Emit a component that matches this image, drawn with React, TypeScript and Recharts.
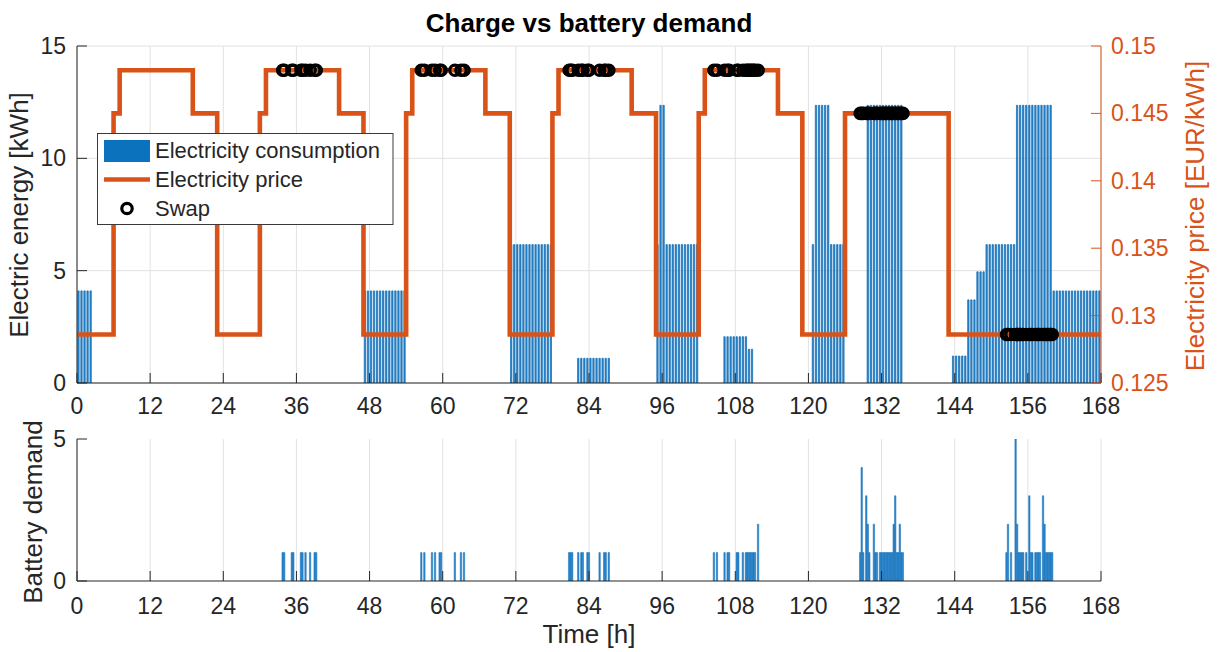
import React from 'react';
import { ComposedChart, Bar, Line, Scatter, XAxis, YAxis, CartesianGrid } from 'recharts';

const FONT = '"Liberation Sans", Arial, Helvetica, sans-serif';
const INK = '#262626';
const ORANGE = '#D95319';
const BAR_FILL = '#2F8BD1';
const BAR_EDGE = '#0B69B2';
const GRID = '#E2E2E2';
const TICK_LEN = 10;
const TICK_FONT = 23;

// axis ticks
const hourTicks = [0, 12, 24, 36, 48, 60, 72, 84, 96, 108, 120, 132, 144, 156, 168];
const energyTicks = [0, 5, 10, 15];
const priceTicks = [0.125, 0.13, 0.135, 0.14, 0.145, 0.15];
const demandTicks = [0, 5];

// tariff levels [EUR/kWh]
const LOW = 0.1286;
const MID = 0.145;
const PEAK = 0.1482;

// electricity price per hour, 7 days x 24 h
const hourlyPrice = [
  LOW, LOW, LOW, LOW, LOW, LOW, MID, PEAK, PEAK, PEAK, PEAK, PEAK, PEAK, PEAK, PEAK, PEAK, PEAK, PEAK, PEAK, MID, MID, MID, MID, LOW,
  LOW, LOW, LOW, LOW, LOW, LOW, MID, PEAK, PEAK, PEAK, PEAK, PEAK, PEAK, PEAK, PEAK, PEAK, PEAK, PEAK, PEAK, MID, MID, MID, MID, LOW,
  LOW, LOW, LOW, LOW, LOW, LOW, MID, PEAK, PEAK, PEAK, PEAK, PEAK, PEAK, PEAK, PEAK, PEAK, PEAK, PEAK, PEAK, MID, MID, MID, MID, LOW,
  LOW, LOW, LOW, LOW, LOW, LOW, MID, PEAK, PEAK, PEAK, PEAK, PEAK, PEAK, PEAK, PEAK, PEAK, PEAK, PEAK, PEAK, MID, MID, MID, MID, LOW,
  LOW, LOW, LOW, LOW, LOW, LOW, MID, PEAK, PEAK, PEAK, PEAK, PEAK, PEAK, PEAK, PEAK, PEAK, PEAK, PEAK, PEAK, MID, MID, MID, MID, LOW,
  LOW, LOW, LOW, LOW, LOW, LOW, MID, MID, MID, MID, MID, MID, MID, MID, MID, MID, MID, MID, MID, MID, MID, MID, MID, LOW,
  LOW, LOW, LOW, LOW, LOW, LOW, LOW, LOW, LOW, LOW, LOW, LOW, LOW, LOW, LOW, LOW, LOW, LOW, LOW, LOW, LOW, LOW, LOW, LOW,
];

// electricity consumption per half hour [kWh], 12 slots (6 h) per line
const consumption = [
  // day 1
  4.1, 4.1, 4.1, 4.1, 4.1, 0, 0, 0, 0, 0, 0, 0,
  0, 0, 0, 0, 0, 0, 0, 0, 0, 0, 0, 0,
  0, 0, 0, 0, 0, 0, 0, 0, 0, 0, 0, 0,
  0, 0, 0, 0, 0, 0, 0, 0, 0, 0, 0, 0,
  // day 2
  0, 0, 0, 0, 0, 0, 0, 0, 0, 0, 0, 0,
  0, 0, 0, 0, 0, 0, 0, 0, 0, 0, 0, 0,
  0, 0, 0, 0, 0, 0, 0, 0, 0, 0, 0, 0,
  0, 0, 0, 0, 0, 0, 0, 0, 0, 0, 4.1, 4.1,
  // day 3
  4.1, 4.1, 4.1, 4.1, 4.1, 4.1, 4.1, 4.1, 4.1, 4.1, 4.1, 4.1,
  0, 0, 0, 0, 0, 0, 0, 0, 0, 0, 0, 0,
  0, 0, 0, 0, 0, 0, 0, 0, 0, 0, 0, 0,
  0, 0, 0, 0, 0, 0, 0, 0, 0, 0, 6.16, 6.16,
  // day 4
  6.16, 6.16, 6.16, 6.16, 6.16, 6.16, 6.16, 6.16, 6.16, 6.16, 6.16, 6.16,
  0, 0, 0, 0, 0, 0, 0, 0, 1.1, 1.1, 1.1, 1.1,
  1.1, 1.1, 1.1, 1.1, 1.1, 1.1, 1.1, 0, 0, 0, 0, 0,
  0, 0, 0, 0, 0, 0, 0, 0, 0, 0, 6.16, 12.36,
  // day 5
  12.36, 6.16, 6.16, 6.16, 6.16, 6.16, 6.16, 6.16, 6.16, 6.16, 6.16, 6.16,
  0, 0, 0, 0, 0, 0, 0, 0, 2.06, 2.06, 2.06, 2.06,
  2.06, 2.06, 2.06, 2.06, 1.5, 1.5, 0, 0, 0, 0, 0, 0,
  0, 0, 0, 0, 0, 0, 0, 0, 0, 0, 0, 0,
  // day 6
  0, 6.16, 12.36, 12.36, 12.36, 12.36, 12.36, 6.16, 6.16, 6.16, 6.16, 6.16,
  0, 0, 0, 0, 0, 0, 0, 12.36, 12.36, 12.36, 12.36, 12.36,
  12.36, 12.36, 12.36, 12.36, 12.36, 12.36, 12.36, 0, 0, 0, 0, 0,
  0, 0, 0, 0, 0, 0, 0, 0, 0, 0, 0, 1.2,
  // day 7
  1.2, 1.2, 1.2, 1.2, 3.7, 3.7, 3.7, 4.95, 4.95, 4.95, 6.16, 6.16,
  6.16, 6.16, 6.16, 6.16, 6.16, 6.16, 6.16, 6.16, 12.36, 12.36, 12.36, 12.36,
  12.36, 12.36, 12.36, 12.36, 12.36, 12.36, 12.36, 12.36, 4.1, 4.1, 4.1, 4.1,
  4.1, 4.1, 4.1, 4.1, 4.1, 4.1, 4.1, 4.1, 4.1, 4.1, 4.1, 4.1,
];

// battery swaps: time [h] and number of batteries demanded
const swapTimes = [
  33.75, 34, 35.25, 35.5, 36.75, 37, 37.5, 38.25, 39, 39.25,
  56.5, 57, 58.25, 58.75, 59.5, 59.75, 62, 63, 63.5,
  80.75, 81, 81.25, 82.25, 82.75, 83, 83.75, 84, 85.75, 86.5, 86.75, 87.25,
  104.5, 105, 106.25, 106.75, 107, 108.25, 108.5, 109.25, 109.75, 110, 110.25, 110.5, 110.75, 111, 111.25, 111.75,
  128.5, 128.75, 129, 129.5, 129.75, 130, 130.75, 131, 131.25, 131.75, 132, 132.25, 132.5, 132.75, 133, 133.25,
  133.5, 133.75, 134, 134.25, 134.5, 134.75, 135, 135.25, 135.5,
  152.5, 152.75, 153.25, 154, 154.25, 154.5, 154.75, 155, 155.25, 155.75, 156.25, 156.5, 156.75, 157.25, 157.5,
  157.75, 158, 158.5, 158.75, 159, 159.25, 159.5, 159.75, 160,
];
const batteryDemand = [
  1, 1, 1, 1, 1, 1, 1, 1, 1, 1,
  1, 1, 1, 1, 1, 1, 1, 1, 1,
  1, 1, 1, 1, 1, 1, 1, 1, 1, 1, 1, 1,
  1, 1, 1, 1, 1, 1, 1, 1, 1, 1, 1, 1, 1, 1, 1, 2,
  1, 4, 1, 3, 2, 1, 2, 1, 1, 1, 1, 1, 1, 1, 1, 1,
  1, 1, 2, 3, 1, 1, 2, 1, 1,
  1, 2, 1, 5, 2, 1, 1, 1, 1, 1, 3, 1, 1, 1, 1,
  1, 1, 3, 2, 1, 1, 1, 1, 1,
];

const energyRows = consumption.map((kwh, i) => ({ t: i * 0.5 + 0.25, kwh }));
const priceRows = [
  ...hourlyPrice.map((price, h) => ({ t: h, price })),
  { t: 168, price: hourlyPrice[hourlyPrice.length - 1] },
];
const swapRows = swapTimes.map((t) => ({ t, price: hourlyPrice[Math.floor(t)] }));
const demandRows = swapTimes.map((t, i) => ({ t, n: batteryDemand[i] }));

const txt = { fontFamily: FONT, fontSize: TICK_FONT, fill: INK };

// MATLAB style ticks: marks point into the plot, labels outside
const bottomTick = (drop: number, labels = true) => (p: any) => (
  <g>
    <line x1={p.x} x2={p.x} y1={p.y} y2={p.y - TICK_LEN} stroke={INK} />
    {labels && (
      <text x={p.x} y={p.y + drop} textAnchor="middle" {...txt}>
        {p.payload.value}
      </text>
    )}
  </g>
);
const topTick = (p: any) => <line x1={p.x} x2={p.x} y1={p.y} y2={p.y + TICK_LEN} stroke={INK} />;
const leftTick = (p: any) => (
  <g>
    <line x1={p.x} x2={p.x + TICK_LEN} y1={p.y} y2={p.y} stroke={INK} />
    <text x={p.x - 11} y={p.y + 8} textAnchor="end" {...txt}>
      {p.payload.value}
    </text>
  </g>
);
const rightTick = (color: string, labels: boolean) => (p: any) => (
  <g>
    <line x1={p.x} x2={p.x - TICK_LEN} y1={p.y} y2={p.y} stroke={color} />
    {labels && (
      <text x={p.x + 10} y={p.y + 8} textAnchor="start" {...txt} fill={color}>
        {p.payload.value}
      </text>
    )}
  </g>
);

const SwapMarker = (p: any) => (
  <circle cx={p.cx} cy={p.cy} r={5.2} fill="none" stroke="#000" strokeWidth={3.2} />
);

export default function App() {
  return (
    <div style={{ position: 'absolute', left: 0, top: 0, width: 1218, height: 652, background: '#fff' }}>
      <div style={{ position: 'absolute', left: 0, top: 0 }}>
        <ComposedChart width={1218} height={420} data={energyRows} margin={{ top: 46, right: 0, bottom: 0, left: 0 }}>
          <CartesianGrid yAxisId="left" stroke={GRID} ticks={hourTicks} />
          <XAxis
            dataKey="t"
            type="number"
            domain={[0, 168]}
            ticks={hourTicks}
            interval={0}
            height={37}
            tickSize={0}
            tickMargin={0}
            tick={bottomTick(31)}
            axisLine={{ stroke: INK }}
            allowDataOverflow
          />
          <YAxis
            yAxisId="left"
            domain={[0, 15]}
            ticks={energyTicks}
            interval={0}
            width={77}
            tickSize={0}
            tickMargin={0}
            tick={leftTick}
            axisLine={{ stroke: INK }}
            allowDataOverflow
          />
          <YAxis
            yAxisId="right"
            orientation="right"
            domain={[0.125, 0.15]}
            ticks={priceTicks}
            interval={0}
            width={117}
            tickSize={0}
            tickMargin={0}
            tick={rightTick(ORANGE, true)}
            axisLine={{ stroke: ORANGE }}
            allowDataOverflow
          />
          <Bar yAxisId="left" dataKey="kwh" barSize={3} fill={BAR_FILL} stroke={BAR_EDGE} strokeWidth={0.7} isAnimationActive={false} />
          <Line
            yAxisId="right"
            data={priceRows}
            dataKey="price"
            type="stepAfter"
            stroke={ORANGE}
            strokeWidth={4.6}
            dot={false}
            activeDot={false}
            isAnimationActive={false}
          />
          <Scatter yAxisId="right" data={swapRows} dataKey="price" shape={SwapMarker} isAnimationActive={false} />
        </ComposedChart>
      </div>

      <div style={{ position: 'absolute', left: 0, top: 400 }}>
        <ComposedChart width={1218} height={252} data={demandRows} margin={{ top: 39, right: 117, bottom: 0, left: 0 }}>
          <CartesianGrid stroke={GRID} horizontal={false} ticks={hourTicks} />
          <XAxis
            dataKey="t"
            type="number"
            domain={[0, 168]}
            ticks={hourTicks}
            interval={0}
            height={71}
            tickSize={0}
            tickMargin={0}
            tick={bottomTick(33)}
            axisLine={{ stroke: INK }}
            allowDataOverflow
          />
          <XAxis
            xAxisId="top"
            orientation="top"
            dataKey="t"
            type="number"
            domain={[0, 168]}
            ticks={hourTicks}
            interval={0}
            height={0}
            tickSize={0}
            tickMargin={0}
            tick={topTick}
            axisLine={{ stroke: INK }}
            allowDataOverflow
          />
          <YAxis
            domain={[0, 5]}
            ticks={demandTicks}
            interval={0}
            width={77}
            tickSize={0}
            tickMargin={0}
            tick={leftTick}
            axisLine={{ stroke: INK }}
            allowDataOverflow
          />
          <YAxis
            yAxisId="box"
            orientation="right"
            domain={[0, 5]}
            ticks={demandTicks}
            interval={0}
            width={0}
            tickSize={0}
            tickMargin={0}
            tick={rightTick(INK, false)}
            axisLine={{ stroke: INK }}
            allowDataOverflow
          />
          <Bar dataKey="n" barSize={1.4} fill={BAR_FILL} stroke={BAR_EDGE} strokeWidth={0.5} isAnimationActive={false} />
        </ComposedChart>
      </div>

      <svg width={1218} height={652} style={{ position: 'absolute', left: 0, top: 0, pointerEvents: 'none' }}>
        <g fontFamily={FONT} fill={INK}>
          <text x={589} y={31.5} textAnchor="middle" fontSize={26} fontWeight="bold" fill="#000">
            Charge vs battery demand
          </text>
          <text transform="translate(28,215) rotate(-90)" textAnchor="middle" fontSize={26}>
            Electric energy [kWh]
          </text>
          <text transform="translate(1204,216) rotate(-90)" textAnchor="middle" fontSize={26} fill={ORANGE}>
            Electricity price [EUR/kWh]
          </text>
          <text transform="translate(42,512) rotate(-90)" textAnchor="middle" fontSize={26}>
            Battery demand
          </text>
          <text x={589} y={643} textAnchor="middle" fontSize={26}>
            Time [h]
          </text>

          <rect x={97.5} y={133.5} width={295.5} height={91} fill="#fff" stroke="#3a3a3a" strokeWidth={1} />
          <rect x={104} y={140} width={46} height={22} fill="#0B72BD" />
          <text x={155} y={158} fontSize={22}>Electricity consumption</text>
          <line x1={104} x2={150} y1={179.5} y2={179.5} stroke={ORANGE} strokeWidth={4.6} />
          <text x={155} y={187} fontSize={22}>Electricity price</text>
          <circle cx={127} cy={208.5} r={5.2} fill="none" stroke="#000" strokeWidth={3.2} />
          <text x={155} y={216} fontSize={22}>Swap</text>
        </g>
      </svg>
    </div>
  );
}
